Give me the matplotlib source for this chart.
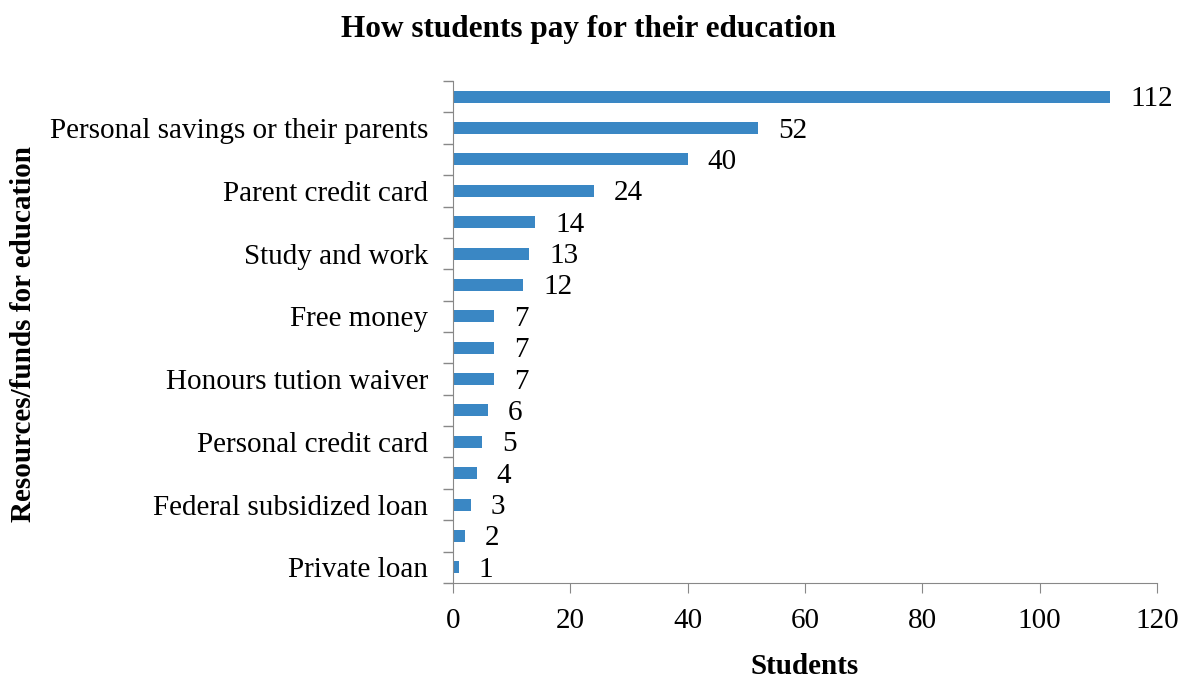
import matplotlib
matplotlib.use("Agg")
import matplotlib.pyplot as plt
import numpy as np

categories = ["", "Personal savings or their parents", "", "Parent credit card", "",
              "Study and work", "", "Free money", "", "Honours tution waiver", "",
              "Personal credit card", "", "Federal subsidized loan", "", "Private loan"]
values = [112, 52, 40, 24, 14, 13, 12, 7, 7, 7, 6, 5, 4, 3, 2, 1]
x_ticks = [0, 20, 40, 60, 80, 100, 120]

plt.rcParams['font.family'] = ['Liberation Serif', 'DejaVu Serif']

fig = plt.figure(figsize=(11.86, 6.79), dpi=100)
ax = fig.add_axes([0.382, 0.1414, 0.5935, 0.7393])

n = len(values)
y = np.arange(n)
ax.barh(y, values, height=0.38, color="#3A87C4")
ax.set_ylim(n - 0.5, -0.5)
ax.set_xlim(0, 120)
ax.set_xticks(x_ticks)
ax.set_yticks(y)
ax.set_yticklabels(categories, fontsize=21)
ax.set_yticks(np.arange(-0.5, n, 1), minor=True)
ax.tick_params(axis='y', which='major', length=0, pad=18)
ax.tick_params(axis='y', which='minor', length=7, color="#888888", width=1)
ax.tick_params(axis='x', which='major', length=7, color="#888888", labelsize=21, pad=11)

for s in ['top', 'right']:
    ax.spines[s].set_visible(False)
for s in ['left', 'bottom']:
    ax.spines[s].set_color("#888888")

for yi, v in zip(y, values):
    ax.text(v + 3.4, yi + 0.08, str(v), va='center', ha='left', fontsize=21)

ax.set_xlabel("Students", fontsize=21, fontweight='bold', labelpad=14)
fig.text(0.0195, 0.508, "Resources/funds for education", rotation=90, ha='center', va='center',
         fontsize=21, fontweight='bold')
fig.text(0.496, 0.957, "How students pay for their education", ha='center', va='center',
         fontsize=22.5, fontweight='bold')

fig.savefig("out.png", dpi=100)
